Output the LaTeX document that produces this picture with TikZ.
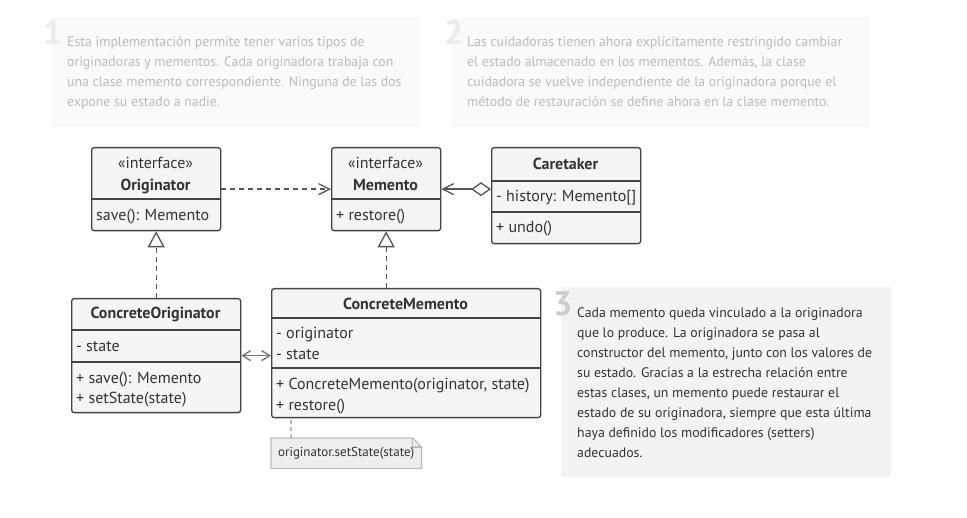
\documentclass[tikz,border=0pt]{standalone}
\usepackage{fontspec}
\setmainfont{PT Sans}
\usetikzlibrary{arrows.meta}
\definecolor{ink}{HTML}{333333}
\definecolor{line}{HTML}{444444}
\definecolor{conn}{HTML}{555555}
\definecolor{boxbg}{HTML}{F5F5F5}
\definecolor{fadebg}{HTML}{FAFAFA}
\definecolor{fadeink}{HTML}{BBBBBB}
\definecolor{fadenum}{HTML}{EBEBEB}
\definecolor{notebg}{HTML}{F3F3F3}
\definecolor{notenum}{HTML}{CCCCCC}
\definecolor{memobg}{HTML}{EEEEEE}
\definecolor{memoline}{HTML}{BBBBBB}
\newcommand*{\clsfont}{\fontsize{16}{18}\selectfont}
\newcommand*{\notefont}{\fontsize{13.8}{20}\selectfont}

\tikzset{
  cls/.style={draw=line, fill=boxbg, line width=1.3pt, rounded corners=2.5pt,
    anchor=north west, inner sep=0},
  sep/.style={draw=line, line width=1.3pt},
  hd/.style={anchor=base, inner sep=0, text=ink, font=\clsfont},
  ttl/.style={anchor=base, inner sep=0, text=ink, font=\clsfont\bfseries},
  lbl/.style={anchor=base west, inner sep=0, text=ink, font=\clsfont},
  notebox/.style={anchor=north west, inner sep=0},
  notetxt/.style={anchor=base west, inner sep=0, font=\notefont},
  bignum/.style={anchor=base west, inner sep=0, font=\fontsize{34}{34}\selectfont\bfseries},
  vee/.tip={Straight Barb[length=11pt, width=11pt]},
  dep/.style={draw=conn, line width=1.3pt, dash pattern=on 5pt off 4pt, -vee},
  agg/.style={draw=conn, line width=1.3pt, {Diamond[length=20pt, width=14pt, fill=white]}-vee},
  real/.style={draw=conn, line width=1.3pt, dash pattern=on 5pt off 4pt,
    -{Triangle[length=16pt, width=17pt, fill=white]}},
  assoc/.style={draw=conn!80, line width=1.4pt,
    {Straight Barb[length=8pt, width=10pt]}-{Straight Barb[length=8pt, width=10pt]}},
}

\begin{document}
\begin{tikzpicture}[x=1pt, y=-1pt]
\useasboundingbox (0,0) rectangle (967,518);

\node[notebox, fill=fadebg, minimum width=369pt, minimum height=110pt] (n1) at (52,17) {};
\node[bignum, text=fadenum] (k1) at (43,45) {1};
\foreach \t [count=\i] in {Esta implementación permite tener varios tipos de,
    originadoras y mementos. Cada originadora trabaja con,
    una clase memento correspondiente. Ninguna de las dos,
    expone su estado a nadie.}
  \node[notetxt, text=fadeink] (a\i) at (67,27+\i*20) {\t};

\node[notebox, fill=fadebg, minimum width=418pt, minimum height=110pt] (n2) at (452,17) {};
\node[bignum, text=fadenum] (k2) at (444,45) {2};
\foreach \t [count=\i] in {Las cuidadoras tienen ahora explícitamente restringido cambiar,
    {el estado almacenado en los mementos. Además, la clase},
    cuidadora se vuelve independiente de la originadora porque el,
    método de restauración se define ahora en la clase memento.}
  \node[notetxt, text=fadeink] (b\i) at (467,27+\i*20) {\t};

\node[notebox, fill=notebg, minimum width=330pt, minimum height=190pt] (n3) at (561,287) {};
\node[bignum, text=notenum] (k3) at (553,316) {3};
\foreach \t [count=\i] in {Cada memento queda vinculado a la originadora,
    que lo produce. La originadora se pasa al,
    {constructor del memento, junto con los valores de},
    su estado. Gracias a la estrecha relación entre,
    {estas clases, un memento puede restaurar el},
    {estado de su originadora, siempre que esta última},
    haya definido los modificadores (setters),
    adecuados.}
  \node[notetxt, text=ink] (d\i) at (577,298+\i*20) {\t};

\node[cls, minimum width=129pt, minimum height=83pt] (o) at (91,147) {};
\draw[sep] ([yshift=-52pt]o.north west) -- ([yshift=-52pt]o.north east);
\node[hd] (o1) at (155.5,169) {«interface»};
\node[ttl] (o2) at (155.5,191) {Originator};
\node[lbl] (o3) at (96,221) {save(): Memento};

\node[cls, minimum width=109pt, minimum height=83pt] (m) at (331,147) {};
\draw[sep] ([yshift=-52pt]m.north west) -- ([yshift=-52pt]m.north east);
\node[hd] (m1) at (385.5,169) {«interface»};
\node[ttl] (m2) at (385.5,191) {Memento};
\node[lbl] (m3) at (336,221) {+ restore()};

\node[cls, minimum width=149pt, minimum height=96pt] (c) at (491,147) {};
\draw[sep] ([yshift=-34pt]c.north west) -- ([yshift=-34pt]c.north east);
\draw[sep] ([yshift=-65pt]c.north west) -- ([yshift=-65pt]c.north east);
\node[ttl] (c1) at (565.5,170) {Caretaker};
\node[lbl] (c2) at (496,202) {- history: Memento[]};
\node[lbl] (c3) at (496,233) {+ undo()};

\node[cls, minimum width=169pt, minimum height=114pt] (co) at (71,298) {};
\draw[sep] ([yshift=-32pt]co.north west) -- ([yshift=-32pt]co.north east);
\draw[sep] ([yshift=-64pt]co.north west) -- ([yshift=-64pt]co.north east);
\node[ttl] (co1) at (155.5,319) {ConcreteOriginator};
\node[lbl] (co2) at (76,352) {- state};
\node[lbl] (co3) at (76,384) {+ save(): Memento};
\node[lbl] (co4) at (76,404) {+ setState(state)};

\node[cls, minimum width=269pt, minimum height=129pt] (cm) at (271,288) {};
\draw[sep] ([yshift=-30pt]cm.north west) -- ([yshift=-30pt]cm.north east);
\draw[sep] ([yshift=-80pt]cm.north west) -- ([yshift=-80pt]cm.north east);
\node[ttl] (cm1) at (405.5,310) {ConcreteMemento};
\node[lbl] (cm2) at (276,339) {- originator};
\node[lbl] (cm3) at (276,360) {- state};
\node[lbl] (cm4) at (276,390) {+ ConcreteMemento(originator, state)};
\node[lbl] (cm5) at (276,411) {+ restore()};

\node[notebox, minimum width=150pt, minimum height=30pt] (nt) at (271,438) {};
\draw[draw=memoline, fill=memobg, line width=1.2pt]
  (nt.south west) -- (nt.north west) -- ([xshift=-9pt]nt.north east)
  -- ([yshift=-9pt]nt.north east) -- (nt.south east) -- cycle;
\draw[draw=memoline, line width=1.2pt]
  ([xshift=-9pt]nt.north east) -- ([xshift=-9pt,yshift=-9pt]nt.north east)
  -- ([yshift=-9pt]nt.north east);
\node[inner sep=0, text=ink, font=\fontsize{13}{15}\selectfont] (nt1) at (nt.center) {originator.setState(state)};
\draw[draw=memoline, line width=1.2pt, dash pattern=on 4pt off 3pt]
  ([xshift=20pt]nt.north west) -- ([xshift=20pt]nt.north west |- cm.south);

\draw[dep] (o) -- (m);
\draw[agg] (c.west |- m.east) -- (m.east);
\draw[real] (co.north) -- (o.south);
\draw[real] (m.south |- cm.north) -- (m.south);
\draw[assoc] (co.east) -- (co.east -| cm.west);
\end{tikzpicture}
\end{document}
